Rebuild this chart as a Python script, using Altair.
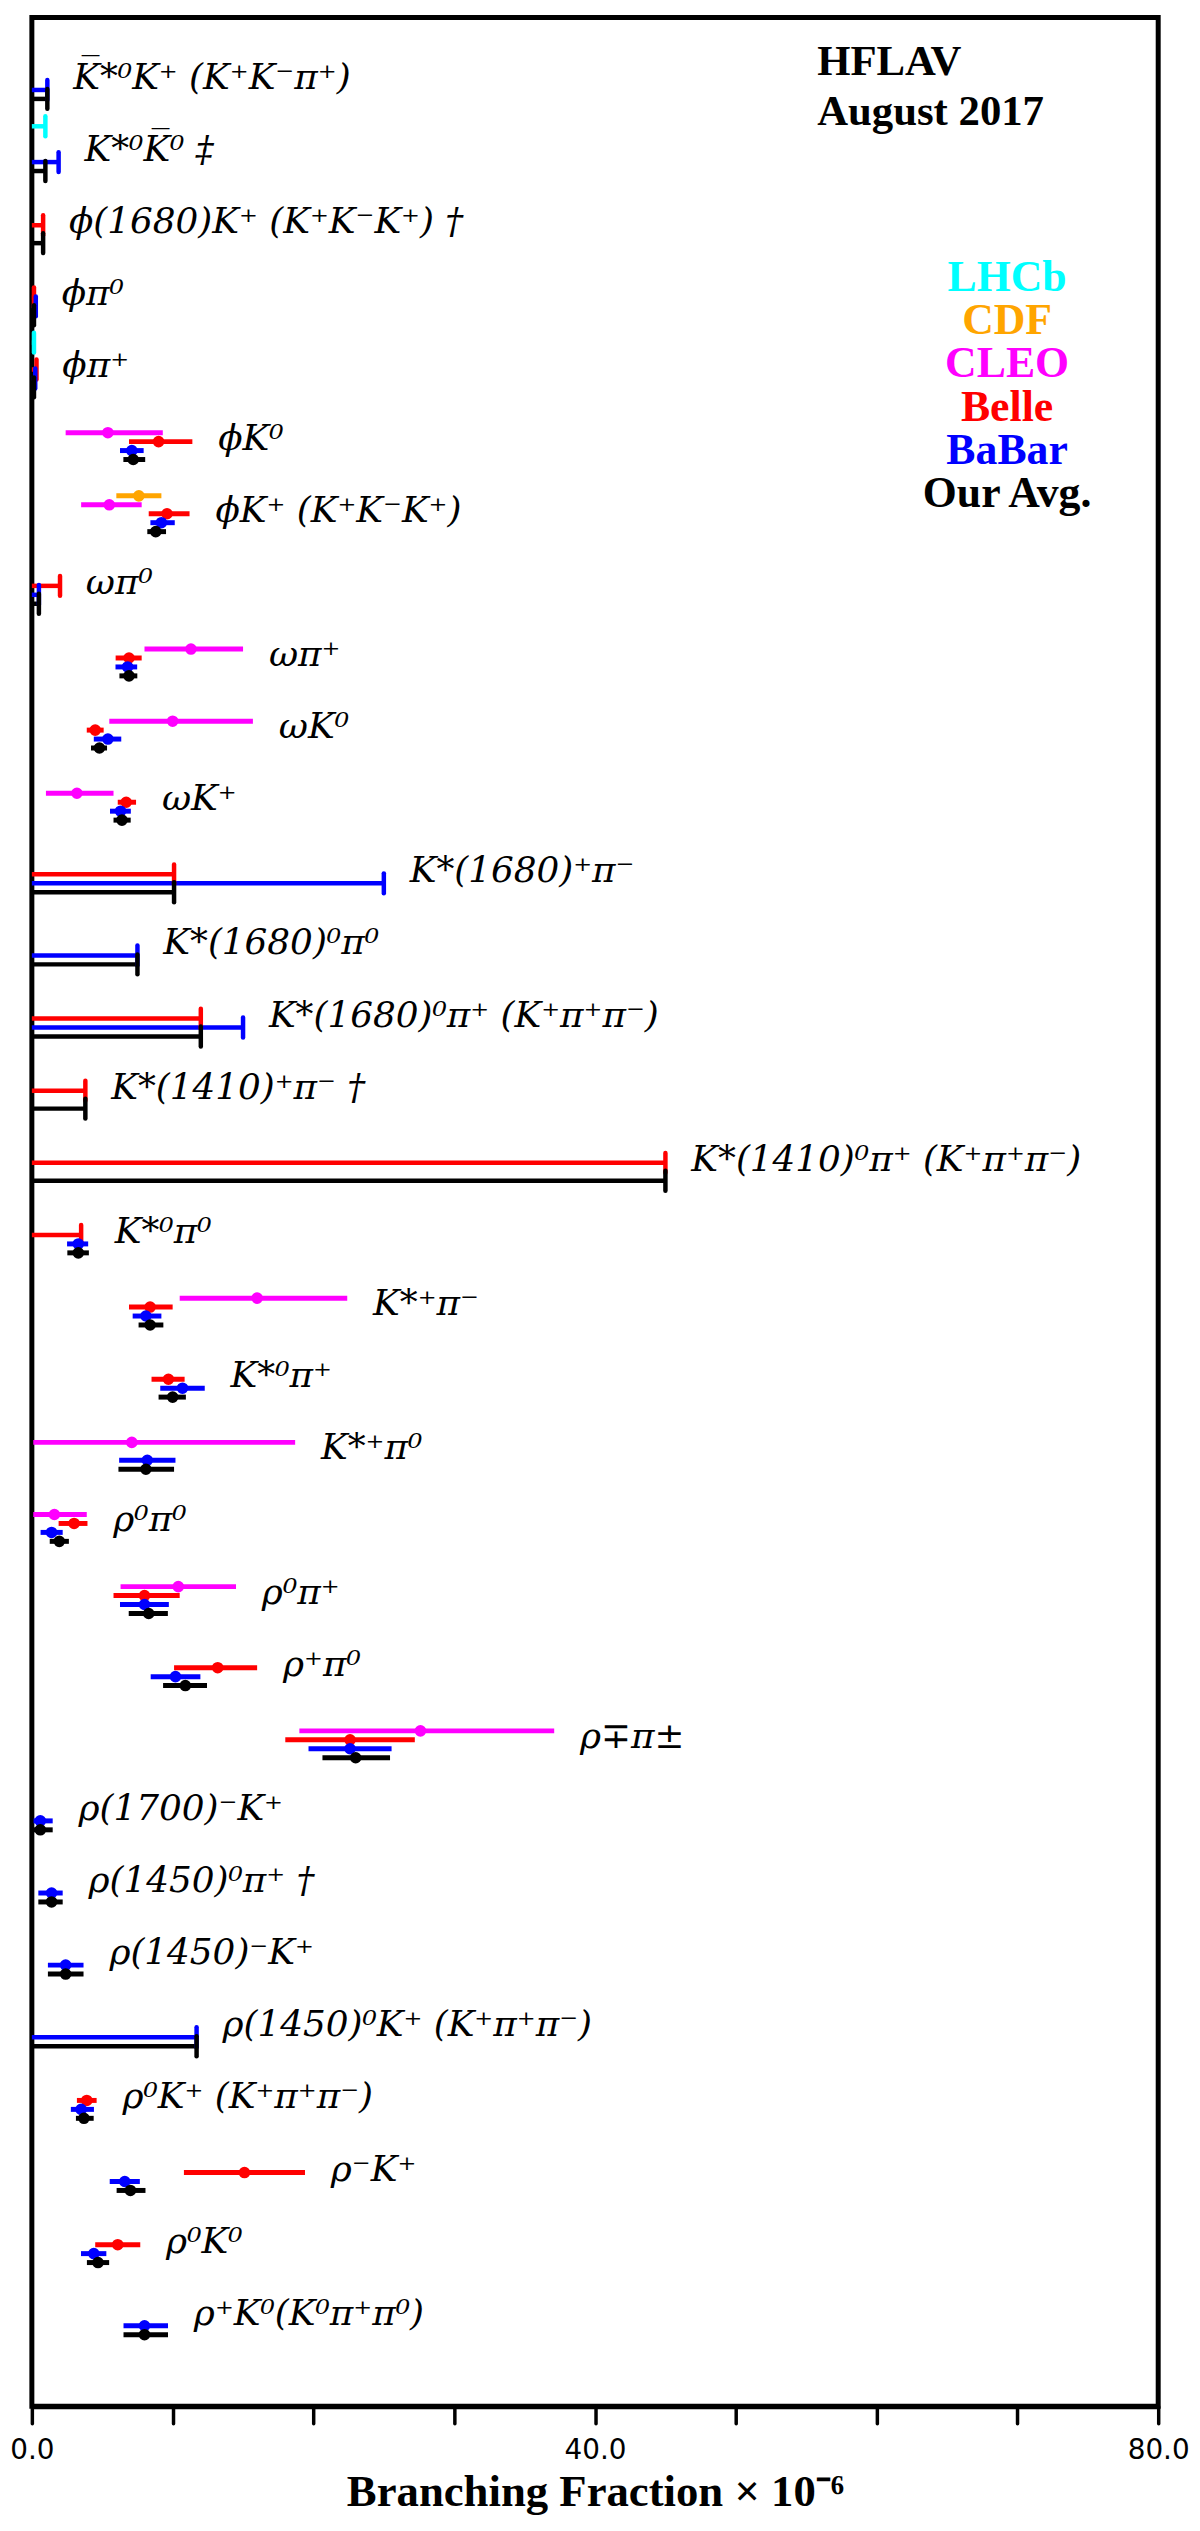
import altair as alt
import pandas as pd

# ---------------- data ----------------
ROW_LABELS = [
    "K\u0305*\u2070K\u207a (K\u207aK\u207b\u03c0\u207a)",
    "K*\u2070K\u0305\u2070 \u2021",
    "\u03d5(1680)K\u207a (K\u207aK\u207bK\u207a) \u2020",
    "\u03d5\u03c0\u2070",
    "\u03d5\u03c0\u207a",
    "\u03d5K\u2070",
    "\u03d5K\u207a (K\u207aK\u207bK\u207a)",
    "\u03c9\u03c0\u2070",
    "\u03c9\u03c0\u207a",
    "\u03c9K\u2070",
    "\u03c9K\u207a",
    "K*(1680)\u207a\u03c0\u207b",
    "K*(1680)\u2070\u03c0\u2070",
    "K*(1680)\u2070\u03c0\u207a (K\u207a\u03c0\u207a\u03c0\u207b)",
    "K*(1410)\u207a\u03c0\u207b \u2020",
    "K*(1410)\u2070\u03c0\u207a (K\u207a\u03c0\u207a\u03c0\u207b)",
    "K*\u2070\u03c0\u2070",
    "K*\u207a\u03c0\u207b",
    "K*\u2070\u03c0\u207a",
    "K*\u207a\u03c0\u2070",
    "\u03c1\u2070\u03c0\u2070",
    "\u03c1\u2070\u03c0\u207a",
    "\u03c1\u207a\u03c0\u2070",
    "\u03c1\u2213\u03c0\u00b1",
    "\u03c1(1700)\u207bK\u207a",
    "\u03c1(1450)\u2070\u03c0\u207a \u2020",
    "\u03c1(1450)\u207bK\u207a",
    "\u03c1(1450)\u2070K\u207a (K\u207a\u03c0\u207a\u03c0\u207b)",
    "\u03c1\u2070K\u207a (K\u207a\u03c0\u207a\u03c0\u207b)",
    "\u03c1\u207bK\u207a",
    "\u03c1\u2070K\u2070",
    "\u03c1\u207aK\u2070(K\u2070\u03c0\u207a\u03c0\u2070)",
]

EXPERIMENTS = ["LHCb", "CDF", "CLEO", "Belle", "BaBar", "Our Avg."]
COLORS = ["#00FFFF", "#FFA500", "#FF00FF", "#FF0000", "#0000FF", "#000000"]

# measurements: (row, value, minus error, plus error)
LHCB_MEAS = []
CDF_MEAS = [(6, 7.6, 1.6, 1.6)]
CLEO_MEAS = [(5, 5.4, 3.0, 3.9), (6, 5.5, 2.0, 2.3), (8, 11.3, 3.3, 3.7),
             (9, 10.0, 4.5, 5.7), (10, 3.2, 2.2, 2.6), (17, 16.0, 5.5, 6.4),
             (19, 7.1, 7.0, 11.6), (20, 1.6, 1.5, 2.3), (21, 10.4, 4.1, 4.1),
             (23, 27.6, 8.6, 9.5)]
BELLE_MEAS = [(5, 9.0, 2.1, 2.4), (6, 9.6, 1.3, 1.6), (8, 6.9, 0.95, 0.9),
              (9, 4.5, 0.6, 0.6), (10, 6.7, 0.6, 0.7), (17, 8.4, 1.5, 1.6),
              (18, 9.7, 1.2, 1.15), (20, 3.0, 1.1, 0.95), (21, 8.0, 2.2, 2.5),
              (22, 13.2, 3.1, 2.8), (23, 22.6, 4.6, 4.6), (28, 3.9, 0.7, 0.7),
              (29, 15.1, 4.3, 4.3), (30, 6.1, 1.6, 1.6)]
BABAR_MEAS = [(5, 7.1, 0.84, 0.84), (6, 9.2, 0.78, 0.95), (8, 6.8, 0.86, 0.68),
              (9, 5.4, 1.0, 0.95), (10, 6.3, 0.75, 0.73), (16, 3.3, 0.8, 0.7),
              (17, 8.1, 0.94, 1.1), (18, 10.7, 1.58, 1.58), (19, 8.2, 2.0, 2.0),
              (20, 1.4, 0.78, 0.79), (21, 8.0, 1.74, 1.73), (22, 10.2, 1.76, 1.77),
              (23, 22.6, 2.95, 2.95), (24, 0.6, 0.48, 0.88), (25, 1.4, 0.94, 0.79),
              (26, 2.4, 1.26, 1.27), (28, 3.5, 0.73, 0.91), (29, 6.6, 1.07, 1.07),
              (30, 4.4, 0.91, 0.89), (31, 8.0, 1.49, 1.67)]
AVG_MEAS = [(5, 7.2, 0.7, 0.85), (6, 8.8, 0.6, 0.73), (8, 6.9, 0.68, 0.59),
            (9, 4.8, 0.6, 0.54), (10, 6.4, 0.6, 0.62), (16, 3.3, 0.78, 0.75),
            (17, 8.4, 0.82, 0.94), (18, 10.0, 1.0, 0.94), (19, 8.1, 1.95, 2.0),
            (20, 1.95, 0.68, 0.68), (21, 8.3, 1.42, 1.36), (22, 10.9, 1.58, 1.54),
            (23, 23.0, 2.36, 2.44), (24, 0.6, 0.48, 0.88), (25, 1.4, 0.94, 0.79),
            (26, 2.4, 1.26, 1.27), (28, 3.7, 0.57, 0.69), (29, 7.0, 0.98, 1.07),
            (30, 4.7, 0.79, 0.79), (31, 8.0, 1.49, 1.67)]

# upper limits: (row, limit)
LHCB_UL = [(1, 0.96), (4, 0.15)]
CDF_UL = []
CLEO_UL = []
BELLE_UL = [(2, 0.8), (3, 0.15), (4, 0.33), (7, 2.0), (11, 10.1), (13, 12.0),
            (14, 3.8), (15, 45.0), (16, 3.5)]
BABAR_UL = [(0, 1.1), (1, 1.9), (3, 0.28), (4, 0.24), (7, 0.5), (11, 25.0),
            (12, 7.5), (13, 15.0), (27, 11.7)]
AVG_UL = [(0, 1.1), (1, 0.96), (2, 0.8), (3, 0.15), (4, 0.15), (7, 0.5),
          (11, 10.1), (12, 7.5), (13, 12.0), (14, 3.8), (15, 45.0), (27, 11.7)]

X_TICKS = [0, 10, 20, 30, 40, 50, 60, 70, 80]
X_TITLE = "Branching Fraction \u00d7 10\u207b\u2076"

# ---------------- layout (styles) ----------------
W, H = 1133, 2403
ROW_PX = 72.55
SLOT = 9 / ROW_PX          # vertical offset between experiments in a row
CAP = 10 / ROW_PX          # half-height of upper-limit cap
LABEL_UP = 21 / ROW_PX     # label above the average line
Y_DOMAIN = [-82 / ROW_PX, 31 + 72 / ROW_PX]
SERIF = "Liberation Serif"
LABEL_FONT = "DejaVu Serif"

meas_sets = [LHCB_MEAS, CDF_MEAS, CLEO_MEAS, BELLE_MEAS, BABAR_MEAS, AVG_MEAS]
ul_sets = [LHCB_UL, CDF_UL, CLEO_UL, BELLE_UL, BABAR_UL, AVG_UL]

meas_rows, ul_rows = [], []
for slot, (exp, col, ms, us) in enumerate(zip(EXPERIMENTS, COLORS, meas_sets, ul_sets)):
    off = (slot - 5) * SLOT
    for r, v, lo, hi in ms:
        meas_rows.append(dict(exp=exp, color=col, row=r, y=r + off,
                              val=v, lo=v - lo, hi=v + hi))
    for r, u in us:
        ul_rows.append(dict(exp=exp, color=col, row=r, y=r + off,
                            y1=r + off - CAP, y2=r + off + CAP, zero=0.0, ul=u))

meas_df = pd.DataFrame(meas_rows)
ul_df = pd.DataFrame(ul_rows)

ext = pd.concat([meas_df[["row", "hi"]].rename(columns={"hi": "ext"}),
                 ul_df[["row", "ul"]].rename(columns={"ul": "ext"})])
row_ext = ext.groupby("row")["ext"].max()
label_df = pd.DataFrame({
    "row": list(range(len(ROW_LABELS))),
    "label": ROW_LABELS,
})
label_df["x"] = label_df["row"].map(row_ext)
label_df["y"] = label_df["row"] - LABEL_UP

xscale = alt.Scale(domain=[0, 80], nice=False, zero=False)
yscale = alt.Scale(domain=Y_DOMAIN, reverse=True, nice=False, zero=False)
xaxis = alt.Axis(values=X_TICKS,
                 labelExpr="datum.value % 40 == 0 ? format(datum.value, '.1f') : ''",
                 grid=False)


def X(field):
    return alt.X(field, type="quantitative", scale=xscale, axis=xaxis, title=X_TITLE)


def Y(field):
    return alt.Y(field, type="quantitative", scale=yscale, axis=None)


col = alt.Color("color:N", scale=None)

meas_lines = alt.Chart(meas_df).mark_rule(strokeWidth=5).encode(
    x=X("lo"), x2="hi", y=Y("y"), color=col)
meas_dots = alt.Chart(meas_df).mark_circle(size=135, opacity=1).encode(
    x=X("val"), y=Y("y"), color=col)
ul_lines = alt.Chart(ul_df).mark_rule(strokeWidth=4.5).encode(
    x=X("zero"), x2="ul", y=Y("y"), color=col)
ul_caps = alt.Chart(ul_df).mark_rule(strokeWidth=4.5, strokeCap="round").encode(
    x=X("ul"), y=Y("y1"), y2="y2", color=col)
labels = alt.Chart(label_df).mark_text(
    align="left", baseline="middle", dx=26, font=LABEL_FONT, fontSize=36,
    fontStyle="italic", color="black").encode(
    x=X("x"), y=Y("y"), text="label:N")

notes = []
for i, t in enumerate(["HFLAV", "August 2017"]):
    notes.append(alt.Chart(pd.DataFrame({"t": [t]})).mark_text(
        align="left", baseline="alphabetic", font=SERIF, fontSize=43,
        fontWeight="bold", color="black").encode(
        x=alt.value(790), y=alt.value(58 + 50 * i), text="t:N"))

for i, (exp, c) in enumerate(zip(EXPERIMENTS, COLORS)):
    notes.append(alt.Chart(pd.DataFrame({"t": [exp]})).mark_text(
        align="center", baseline="alphabetic", font=SERIF, fontSize=44,
        fontWeight="bold", color=c).encode(
        x=alt.value(981), y=alt.value(275 + 43.5 * i), text="t:N"))

chart = alt.layer(meas_lines, ul_lines, ul_caps, meas_dots, labels, *notes).properties(
    width=W, height=H,
    padding={"left": 24, "top": 2, "right": 34, "bottom": 114},
    autosize=alt.AutoSizeParams(type="none"),
).configure_view(
    stroke="black", strokeWidth=5
).configure_axisX(
    domainColor="black", domainWidth=5, tickColor="black", tickWidth=3.5,
    tickSize=17, tickCap="round", labelFont="DejaVu Sans", labelFontSize=28,
    labelColor="black", labelPadding=14, labelFlush=False,
    titleFont=SERIF, titleFontSize=45, titleFontWeight="bold",
    titleColor="black", titlePadding=5,
)

chart.save("out.html", embed_options={"renderer": "svg", "actions": False})
